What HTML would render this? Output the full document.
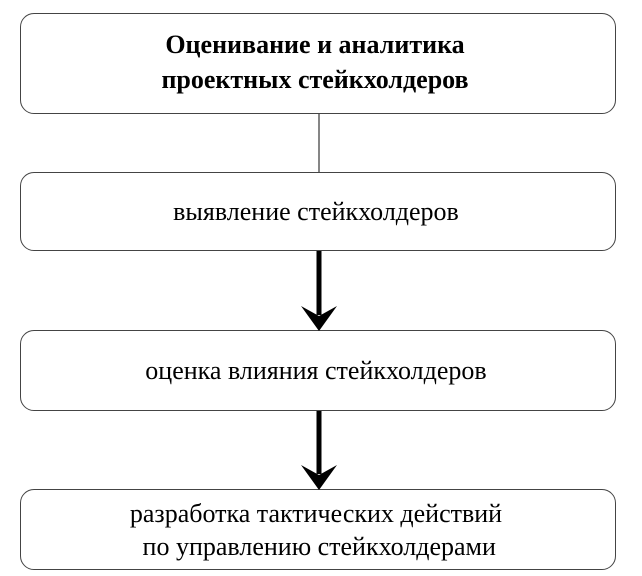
<!DOCTYPE html>
<html><head><meta charset="utf-8"><style>
body{margin:0;background:#fff;}
.b{position:absolute;left:20px;width:596px;border:1.5px solid #444;border-radius:14px;box-sizing:border-box;display:flex;align-items:center;justify-content:center;text-align:center;font-family:"Liberation Serif",serif;color:#000;}
</style></head><body>
<div style="position:relative;width:642px;height:576px;overflow:hidden">
<div class="b" style="top:13px;height:101px;font-weight:bold;font-size:26px;line-height:35px;padding-bottom:4px;padding-right:6px">Оценивание и аналитика<br>проектных стейкхолдеров</div>
<div class="b" style="top:172px;height:79px;font-size:26px;padding-right:4px">выявление стейкхолдеров</div>
<div class="b" style="top:330px;height:81px;font-size:26px;padding-right:4px">оценка влияния стейкхолдеров</div>
<div class="b" style="top:489px;height:81px;font-size:26px;line-height:33px;padding-right:4px">разработка тактических действий<br>&nbsp;по управлению стейкхолдерами</div>
<svg width="642" height="576" style="position:absolute;left:0;top:0">
<line x1="319" y1="114" x2="319" y2="172" stroke="#444" stroke-width="1.3"/>
<line x1="319" y1="251" x2="319" y2="315" stroke="#000" stroke-width="5"/>
<polygon points="301,306 319,316 337,306 319,331" fill="#000"/>
<line x1="319" y1="411" x2="319" y2="474" stroke="#000" stroke-width="5"/>
<polygon points="301,465 319,475 337,465 319,490" fill="#000"/>
</svg>
</div>
</body></html>
